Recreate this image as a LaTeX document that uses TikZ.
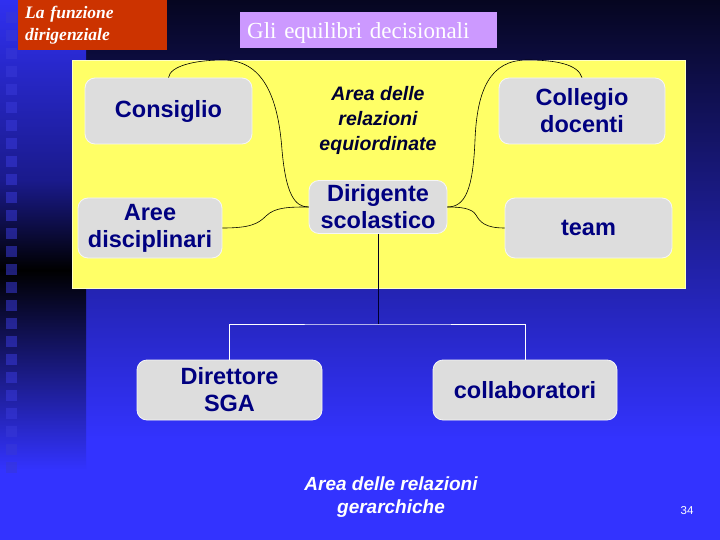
\documentclass[tikz,border=0pt]{standalone}
\usepackage{fontspec}
\setmainfont{Liberation Serif}
\setsansfont{Liberation Sans}

\definecolor{bgtop}{RGB}{6,6,32}
\definecolor{bgblue}{RGB}{51,51,255}
\definecolor{bandblue}{RGB}{48,48,240}
\definecolor{bandmid}{RGB}{26,26,140}
\definecolor{tagred}{RGB}{204,51,0}
\definecolor{lilac}{RGB}{204,153,255}
\definecolor{paleyellow}{RGB}{255,255,102}
\definecolor{boxgray}{RGB}{221,221,221}
\definecolor{navytext}{RGB}{0,0,128}
\definecolor{inktext}{RGB}{0,0,51}
\definecolor{squareblue}{RGB}{56,56,215}
\definecolor{stemline}{RGB}{0,0,40}

\tikzset{
  box/.style={rectangle, rounded corners=10pt, fill=boxgray, draw=white!93!gray,
    line width=0.8pt, text=navytext, align=center, inner sep=0pt,
    font=\sffamily\bfseries\fontsize{23.5}{27}\selectfont},
  arealabel/.style={align=center, font=\sffamily\bfseries\itshape\fontsize{19.5}{25}\selectfont},
  link/.style={black, line width=0.6pt},
}

\begin{document}
\begin{tikzpicture}[x=1pt, y=-1pt]
  % Bounding box
  \useasboundingbox (0,0) rectangle (720,540);

  % Background
  \shade[top color=bgtop, bottom color=bgblue] (86,0) rectangle (720,440);
  \fill[bgblue] (86,440) rectangle (720,540);
  \shade[top color=bandblue, bottom color=bandmid] (0,0) rectangle (86,180);
  \shade[top color=bandmid, bottom color=black] (0,180) rectangle (86,270);
  \shade[top color=black, bottom color=bgblue] (0,270) rectangle (86,470);
  \fill[bgblue] (0,470) rectangle (86,540);
  \foreach \k in {0,...,25}
    \fill[squareblue, opacity=0.55] (6,12+18*\k) rectangle ++(11,11);

  % Headings
  \node[anchor=north west, fill=tagred, minimum width=149pt, minimum height=50pt,
        text width=135pt, inner xsep=7pt, inner ysep=3pt, align=left, text=white,
        font=\rmfamily\bfseries\itshape\fontsize{17.5}{22}\selectfont]
        (badge) at (18,0) {La funzione\\dirigenziale};
  \node[anchor=north west, fill=lilac, minimum width=257pt, minimum height=36pt,
        text width=243pt, inner xsep=7pt, inner ysep=0pt, text height=16pt,
        text depth=0pt, align=left, text=white,
        font=\rmfamily\fontsize{23}{26}\selectfont]
        (title) at (240,12) {Gli equilibri decisionali};

  % Yellow panel
  \filldraw[fill=paleyellow, draw=white!60!paleyellow] (72,60) rectangle (685,288);

  % Boxes
  \node[box, minimum width=167pt, minimum height=66pt] (cons)   at (168.5,111) {Consiglio};
  \node[box, minimum width=166pt, minimum height=66pt] (coll)   at (582,111)   {Collegio\\docenti};
  \node[box, minimum width=144pt, minimum height=60pt] (aree)   at (150,228)   {Aree\\disciplinari};
  \node[box, minimum width=138pt, minimum height=53pt] (dir)    at (378,207)   {Dirigente\\scolastico};
  \node[box, minimum width=167pt, minimum height=60pt] (team)   at (588.5,228) {team};
  \node[box, minimum width=185pt, minimum height=60pt] (dsga)   at (229.5,390) {Direttore\\SGA};
  \node[box, minimum width=184pt, minimum height=60pt] (collab) at (525,390)   {collaboratori};

  % Area labels
  \node[arealabel, text=inktext] (equi) at (378,120) {Area delle\\relazioni\\equiordinate};
  \node[arealabel, text=white, font=\sffamily\bfseries\itshape\fontsize{19}{23}\selectfont]
        (gerar) at (391,497) {Area delle relazioni\\gerarchiche};
  \node[text=white, font=\sffamily\fontsize{11.5}{12}\selectfont] (page) at (687,511) {34};

  % Curved links
  \draw[link] (cons.north) .. controls (170,66) and (195,60) .. (223,60)
                           .. controls (262,60) and (278,95) .. (282,150)
                           .. controls (286,195) and (295,207) .. (dir.west);
  \draw[link] (aree.east) .. controls (250,228) and (258,224) .. (266,216)
                          .. controls (275,207) and (290,207) .. (dir.west);
  \draw[link] (coll.north) .. controls (578,64) and (555,60) .. (527,60)
                           .. controls (490,60) and (477,90) .. (475,140)
                           .. controls (473,190) and (465,207) .. (dir.east);
  \draw[link] (team.west) .. controls (485,228) and (480,222) .. (476,215)
                          .. controls (472,208) and (460,207) .. (dir.east);

  % Hierarchy
  \coordinate (split) at (378,324);
  \draw[stemline, line width=0.8pt] (dir.south) -- (split);
  \draw[white, line width=0.8pt] (dsga.north) |- (split) -| (collab.north);
\end{tikzpicture}
\end{document}
